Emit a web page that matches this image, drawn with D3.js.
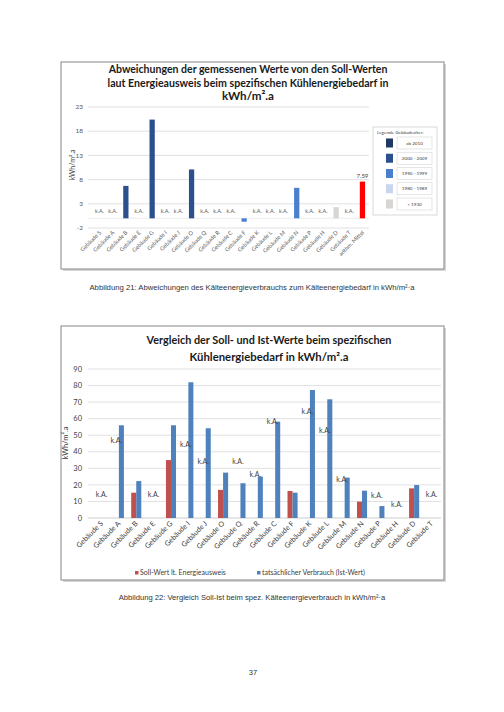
<!DOCTYPE html>
<html>
<head>
<meta charset="utf-8">
<script src="https://cdn.jsdelivr.net/npm/d3@7"></script>
<style>
  body { margin: 0; background: #fff; }
  text { font-family: Lato, "Open Sans", sans-serif; }
  .cap { font-family: "Liberation Sans", Arial, sans-serif; }
</style>
</head>
<body>
<div id="page"></div>
<script>
// ---- data: Abbildung 21 (Abweichungen Soll/Ist) ----
var topCategories = ["Gebäude S","Gebäude A","Gebäude B","Gebäude E","Gebäude G","Gebäude I","Gebäude J",
  "Gebäude O","Gebäude Q","Gebäude R","Gebäude C","Gebäude F","Gebäude K","Gebäude L","Gebäude M",
  "Gebäude N","Gebäude P","Gebäude H","Gebäude D","Gebäude T","arithm. Mittel"];
var topDeviation = [null,null,6.7,null,20.4,null,null,10.1,null,null,null,-0.7,null,null,null,6.3,null,null,2.3,null,7.59];
var topAge = [null,null,"2000 - 2009",null,"2000 - 2009",null,null,"2000 - 2009",null,null,null,"1990 - 1999",
  null,null,null,"1990 - 1999",null,null,"< 1930",null,"Mittel"];
var topTicks = [-2,3,8,13,18,23];
var ageLegend = ["ab 2010","2000 - 2009","1990 - 1999","1980 - 1989","< 1930"];

// ---- data: Abbildung 22 (Soll-Ist Vergleich) ----
var bottomCategories = ["Gebäude S","Gebäude A","Gebäude B","Gebäude E","Gebäude G","Gebäude I","Gebäude J",
  "Gebäude O","Gebäude Q","Gebäude R","Gebäude C","Gebäude F","Gebäude K","Gebäude L","Gebäude M",
  "Gebäude N","Gebäude P","Gebäude H","Gebäude D","Gebäude T"];
var sollValues = [null,null,15.3,null,35,null,null,17,null,null,null,16.3,null,null,null,9.9,null,null,17.9,null];
var istValues = [null,56,22.3,null,56,82,54.2,27.4,21,25,58.2,15.3,77.3,71.7,24.4,16.5,7.2,null,19.9,null];
// height (kWh/m²a) where the "k.A." note sits
var kaLevel = [14,47,null,14,null,44.6,34,null,34,26.5,58,null,64,52.7,23.5,null,13.3,8.3,null,14];
var bottomTicks = d3.range(0, 91, 10);
var seriesNames = ["Soll-Wert lt. Energieausweis","tatsächlicher Verbrauch (Ist-Wert)"];

var svg = d3.select("#page").append("svg")
  .attr("width", 504).attr("height", 712);

svg.append("rect").attr("width",504).attr("height",712).attr("fill","#fff");

// squeeze/stretch a text to a measured width
function fitText(sel, target){
  sel.each(function(){
    var fs = parseFloat(d3.select(this).attr("font-size"));
    var w = this.getComputedTextLength();
    d3.select(this).attr("font-size", fs * target / w);
  });
}

function frame(x, y, w, h){
  svg.append("rect").attr("x",x+2).attr("y",y+2).attr("width",w).attr("height",h)
    .attr("fill","#d6d6d6");
  svg.append("rect").attr("x",x).attr("y",y).attr("width",w).attr("height",h)
    .attr("fill","#fff").attr("stroke","#858585").attr("stroke-width",1);
}

// ================= chart 1 =================
frame(61, 62, 383, 207);
var g1 = svg.append("g");

var title1 = ["Abweichungen der gemessenen Werte von den Soll-Werten",
              "laut Energieausweis beim  spezifischen Kühlenergiebedarf in",
              "kWh/m².a"];
var title1W = [279, 281, 52];
title1.forEach(function(t,i){
  g1.append("text").attr("x",248).attr("y",73+i*13.5)
    .attr("text-anchor","middle").attr("font-weight","bold")
    .attr("font-size",10.5).attr("fill","#1a1a1a").text(t)
    .call(fitText, title1W[i]);
});

var y1 = d3.scaleLinear().domain([-2,23]).range([228,107]);
var x1 = d3.scaleBand().domain(topCategories).range([93,369]).paddingInner(0.6).paddingOuter(0.3);
var ageColor = d3.scaleOrdinal()
  .domain(ageLegend.concat(["Mittel"]))
  .range(["#1f3864","#2c4f8e","#4a7fcf","#c9d4ef","#d8d6d2","#ff0000"]);

g1.selectAll(".grid").data(topTicks).enter().append("line")
  .attr("x1",88).attr("x2",369)
  .attr("y1",d=>y1(d)).attr("y2",d=>y1(d))
  .attr("stroke","#d9d9d9").attr("stroke-width",0.8);

g1.append("line").attr("x1",88).attr("x2",369).attr("y1",y1(0)).attr("y2",y1(0))
  .attr("stroke","#e6e6e6").attr("stroke-width",0.8);

g1.selectAll(".ytick").data(topTicks).enter().append("text")
  .attr("x",83).attr("y",d=>y1(d)).attr("dy","0.35em")
  .attr("text-anchor","end").attr("font-size",6.5).attr("fill","#595959")
  .text(d=>d);

g1.append("text").attr("transform","translate(75,165) rotate(-90)")
  .attr("text-anchor","middle").attr("font-size",7).attr("fill","#404040")
  .text("kWh/m².a");

var topData = topCategories.map((c,i)=>({cat:c, value:topDeviation[i], age:topAge[i]}));

g1.selectAll(".bar").data(topData.filter(d=>d.value!==null)).enter().append("rect")
  .attr("x",d=>x1(d.cat)).attr("width",x1.bandwidth())
  .attr("y",d=>y1(Math.max(0,d.value)))
  .attr("height",d=>Math.abs(y1(d.value)-y1(0)))
  .attr("fill",d=>ageColor(d.age));

g1.selectAll(".ka").data(topData.filter(d=>d.value===null)).enter().append("text")
  .attr("x",d=>x1(d.cat)+x1.bandwidth()/2).attr("y",y1(1.5)).attr("dy","0.35em")
  .attr("text-anchor","middle").attr("font-size",5.5).attr("fill","#595959")
  .text("k.A.");

var mean = topData[topData.length-1];
g1.append("text").attr("x",x1(mean.cat)+x1.bandwidth()/2).attr("y",y1(mean.value)-4)
  .attr("text-anchor","middle").attr("font-size",6).attr("fill","#404040")
  .text(mean.value.toFixed(2));

g1.selectAll(".xlab").data(topCategories).enter().append("text")
  .attr("transform",d=>"translate("+(x1(d)+x1.bandwidth()/2+2)+",233) rotate(-45)")
  .attr("text-anchor","end").attr("font-size",5.6).attr("fill","#595959")
  .text(d=>d);

// legend Gebäudealter
var lg = g1.append("g");
lg.append("rect").attr("x",373).attr("y",127).attr("width",64).attr("height",88)
  .attr("fill","#fff").attr("stroke","#c8c8c8").attr("stroke-width",0.7);
lg.append("text").attr("x",377).attr("y",134).attr("font-size",4.6).attr("fill","#404040")
  .text("Legende Gebäudealter:");
var ly = d3.scalePoint().domain(ageLegend).range([143,204]);
ageLegend.forEach(function(a){
  lg.append("rect").attr("x",386).attr("y",ly(a)-4.5).attr("width",7).attr("height",9)
    .attr("fill",ageColor(a));
  lg.append("rect").attr("x",397).attr("y",ly(a)-6).attr("width",35).attr("height",12)
    .attr("fill","#fff").attr("stroke","#d4d4d4").attr("stroke-width",0.6);
  lg.append("text").attr("x",414.5).attr("y",ly(a)).attr("dy","0.35em")
    .attr("text-anchor","middle").attr("font-size",4.6).attr("fill","#404040").text(a);
});

svg.append("text").attr("class","cap").attr("x",252).attr("y",290)
  .attr("text-anchor","middle").attr("font-size",7.2).attr("fill","#333")
  .text("Abbildung 21: Abweichungen des Kälteenergieverbrauchs zum Kälteenergiebedarf in kWh/m²·a")
  .call(fitText, 325);

// ================= chart 2 =================
frame(61, 326, 383, 254);
var g2 = svg.append("g");

var title2 = ["Vergleich der Soll- und Ist-Werte beim spezifischen",
              "Kühlenergiebedarf in kWh/m².a"];
var title2W = [245, 159];
title2.forEach(function(t,i){
  g2.append("text").attr("x",269).attr("y",344+i*16.5)
    .attr("text-anchor","middle").attr("font-weight","bold")
    .attr("font-size",12).attr("fill","#1a1a1a").text(t)
    .call(fitText, title2W[i]);
});

var y2 = d3.scaleLinear().domain([0,90]).range([518,369]);
var x2 = d3.scaleBand().domain(bottomCategories).range([93,440]).paddingInner(0.42).paddingOuter(0.2);
var xs = d3.scaleBand().domain([0,1]).range([0,x2.bandwidth()]);
var seriesColor = ["#c0504d","#4f81bd"];

g2.selectAll(".grid").data(bottomTicks).enter().append("line")
  .attr("x1",88).attr("x2",441)
  .attr("y1",d=>y2(d)).attr("y2",d=>y2(d))
  .attr("stroke",d=>d===0?"#bfbfbf":"#d9d9d9").attr("stroke-width",0.8);

g2.selectAll(".ytick").data(bottomTicks).enter().append("text")
  .attr("x",82).attr("y",d=>y2(d)).attr("dy","0.35em")
  .attr("text-anchor","end").attr("font-size",7.5).attr("fill","#404040")
  .text(d=>d);

g2.append("text").attr("transform","translate(68,443) rotate(-90)")
  .attr("text-anchor","middle").attr("font-size",7.5).attr("fill","#404040")
  .text("kWh/m².a");

var bottomData = bottomCategories.map((c,i)=>({cat:c, soll:sollValues[i], ist:istValues[i], ka:kaLevel[i]}));

[sollValues, istValues].forEach(function(vals, s){
  g2.selectAll(".s"+s).data(bottomData.filter((d,i)=>vals[i]!==null)).enter().append("rect")
    .attr("x",d=>x2(d.cat)+xs(s)).attr("width",xs.bandwidth())
    .attr("y",d=>y2(s===0?d.soll:d.ist))
    .attr("height",d=>y2(0)-y2(s===0?d.soll:d.ist))
    .attr("fill",seriesColor[s]);
});

g2.selectAll(".ka").data(bottomData.filter(d=>d.ka!==null)).enter().append("text")
  .attr("x",d=>d.ist!==null ? x2(d.cat)+xs(0)+xs.bandwidth()/2 : x2(d.cat)+x2.bandwidth()/2)
  .attr("y",d=>y2(d.ka)).attr("dy","0.35em")
  .attr("text-anchor","middle").attr("font-size",7).attr("fill","#404040")
  .text("k.A.");

g2.selectAll(".xlab").data(bottomCategories).enter().append("text")
  .attr("transform",d=>"translate("+(x2(d)+x2.bandwidth()/2+2)+",524) rotate(-45)")
  .attr("text-anchor","end").attr("font-size",7.2).attr("fill","#404040")
  .text(d=>d);

var legX = [135, 257];
seriesNames.forEach(function(n,s){
  g2.append("rect").attr("x",legX[s]).attr("y",571).attr("width",3.5).attr("height",3.5)
    .attr("fill",seriesColor[s]);
  g2.append("text").attr("x",legX[s]+5).attr("y",573).attr("dy","0.35em")
    .attr("font-size",7).attr("fill","#404040").text(n);
});

svg.append("text").attr("class","cap").attr("x",252).attr("y",600)
  .attr("text-anchor","middle").attr("font-size",7.2).attr("fill","#333")
  .text("Abbildung 22: Vergleich Soll-Ist beim spez. Kälteenergieverbrauch in kWh/m²·a")
  .call(fitText, 267);

svg.append("text").attr("class","cap").attr("x",253).attr("y",675)
  .attr("text-anchor","middle").attr("font-size",7.5).attr("fill","#333")
  .text("37");
</script>
</body>
</html>
